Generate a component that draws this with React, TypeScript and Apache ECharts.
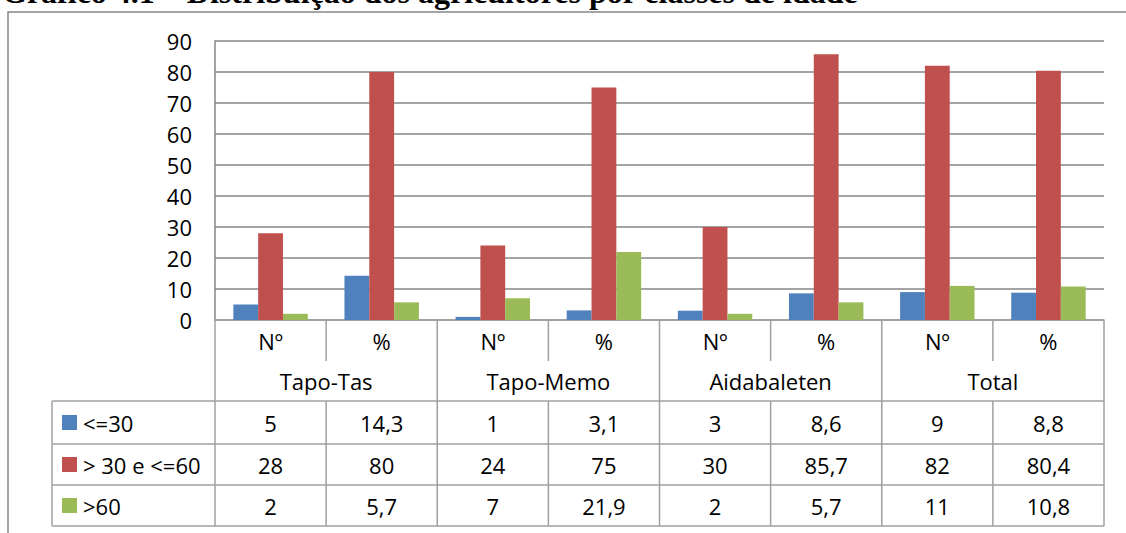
import React, { useEffect, useRef } from "react";
import * as echarts from "echarts";

const titleText = "Gráfico 4.1 – Distribuição dos agricultores por classes de idade";
const categories = ["Nº", "%", "Nº", "%", "Nº", "%", "Nº", "%"];
const groups = ["Tapo-Tas", "Tapo-Memo", "Aidabaleten", "Total"];
const seriesNames = ["<=30", "> 30 e <=60", ">60"];
const young = [5, 14.3, 1, 3.1, 3, 8.6, 9, 8.8];
const middle = [28, 80, 24, 75, 30, 85.7, 82, 80.4];
const old = [2, 5.7, 7, 21.9, 2, 5.7, 11, 10.8];
const yTicks = { min: 0, max: 90, interval: 10 };

const colors = ["#4F81BD", "#C0504D", "#9BBB59"];
const FONT = "'Open Sans', sans-serif";
const FS = 22;

export default function App() {
  const ref = useRef<HTMLDivElement>(null);
  useEffect(() => {
    if (!ref.current) return;
    const chart = echarts.init(ref.current, undefined, { renderer: "svg" });
    const L = 215, R = 1104, T = 41, AX = 320;
    const cw = (R - L) / 8;
    const rows = [320, 361, 401, 444, 485, 526];
    const TL = 52;
    const lineColor = "#a0a0a0";
    const lw = 1.5;
    const g: any[] = [];
    const hline = (x1: number, x2: number, y: number) =>
      g.push({ type: "line", shape: { x1, y1: y, x2, y2: y }, style: { stroke: lineColor, lineWidth: lw }, z: 10 });
    const vline = (x: number, y1: number, y2: number) =>
      g.push({ type: "line", shape: { x1: x, y1, x2: x, y2 }, style: { stroke: lineColor, lineWidth: lw }, z: 10 });
    const txt = (text: string, x: number, y: number, align = "center") =>
      g.push({ type: "text", x, y, style: { text, fill: "#000", font: `${FS}px ${FONT}`, align, verticalAlign: "middle" }, z: 11 });

    // frame
    g.push({ type: "polyline", shape: { points: [[8, 533], [8, 12], [1126, 12]] }, style: { stroke: "#868686", lineWidth: 1.5, fill: "none" }, z: 1 });
    // title (cut off at the top edge, as in the source)
    g.push({ type: "text", x: 2, y: -8, style: { text: titleText, fill: "#000", font: `bold 32px 'Liberation Serif', serif`, align: "left", verticalAlign: "middle" }, z: 11 });

    for (const y of [rows[2], rows[3], rows[4], rows[5]]) hline(TL, R, y);
    vline(TL, rows[2], rows[5]);
    for (let i = 0; i <= 8; i++) {
      const x = L + i * cw;
      if (i % 2 === 0) vline(x, rows[0], rows[5]);
      else {
        vline(x, rows[0], rows[1]);
        vline(x, rows[2], rows[5]);
      }
    }
    categories.forEach((c, i) => txt(c, L + (i + 0.5) * cw, (rows[0] + rows[1]) / 2));
    groups.forEach((gname, i) => txt(gname, L + (2 * i + 1) * cw, (rows[1] + rows[2]) / 2));
    const data = [young, middle, old];
    const fmt = (v: number) => String(v).replace(".", ",");
    data.forEach((arr, r) => {
      const cy = (rows[2 + r] + rows[3 + r]) / 2;
      g.push({ type: "rect", shape: { x: 62, y: cy - 7.5, width: 15, height: 15 }, style: { fill: colors[r] }, z: 11 });
      txt(seriesNames[r], 83, cy, "left");
      arr.forEach((v, i) => txt(fmt(v), L + (i + 0.5) * cw, cy));
    });

    chart.setOption({
      animation: false,
      backgroundColor: "#fff",
      grid: { left: L, right: 1126 - R, top: T, bottom: 533 - AX, containLabel: false },
      xAxis: {
        type: "category",
        data: categories,
        axisLine: { show: true, lineStyle: { color: lineColor, width: lw } },
        axisTick: { show: false },
        axisLabel: { show: false },
      },
      yAxis: {
        type: "value",
        min: yTicks.min,
        max: yTicks.max,
        interval: yTicks.interval,
        axisLine: { show: true, lineStyle: { color: "#868686", width: 1.5 } },
        axisTick: { show: false },
        axisLabel: { color: "#000", fontFamily: FONT, fontSize: FS, margin: 23 },
        splitLine: { show: true, lineStyle: { color: "#868686", width: 1.5 } },
      },
      series: data.map((arr, i) => ({
        name: seriesNames[i],
        type: "bar",
        data: arr,
        barGap: "0%",
        barCategoryGap: "33%",
        itemStyle: { color: colors[i] },
      })),
      graphic: g,
    });
    return () => chart.dispose();
  }, []);
  return <div ref={ref} style={{ position: "fixed", left: 0, top: 0, width: 1126, height: 533 }} />;
}
